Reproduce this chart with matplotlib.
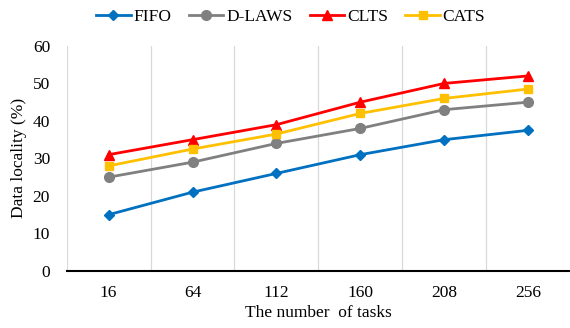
import numpy as np
import matplotlib.pyplot as plt

plt.rcParams['font.family'] = ['Liberation Serif', 'DejaVu Serif']

tasks = ['16', '64', '112', '160', '208', '256']
fifo = [15, 21, 26, 31, 35, 37.5]
dlaws = [25, 29, 34, 38, 43, 45]
clts = [31, 35, 39, 45, 50, 52]
cats = [28, 32.5, 36.5, 42, 46, 48.5]

fig = plt.figure(figsize=(5.7, 3.28), dpi=100)
ax = fig.add_axes([0.117, 0.174, 0.883, 0.686])

x = np.arange(len(tasks))
ax.plot(x, fifo, color='#0070C0', marker='D', ms=5, lw=2, label='FIFO')
ax.plot(x, dlaws, color='#808080', marker='o', ms=7, lw=2, label='D-LAWS')
ax.plot(x, clts, color='#FF0000', marker='^', ms=7, lw=2, label='CLTS')
ax.plot(x, cats, color='#FFC000', marker='s', ms=6, lw=2, label='CATS')

ax.set_xlim(-0.5, len(tasks) - 0.5)
ax.set_ylim(0, 60)
ax.set_xticks(x)
ax.set_xticklabels(tasks)
ax.set_yticks(np.arange(0, 61, 10))
ax.set_xticks(np.arange(-0.5, len(tasks) - 0.5, 1), minor=True)
ax.grid(True, which='minor', axis='x', color='#d9d9d9', lw=0.9)
ax.tick_params(which='both', length=0, labelsize=12.5, pad=10)
ax.tick_params(axis='y', pad=12)

for s in ['top', 'right', 'left']:
    ax.spines[s].set_visible(False)
ax.spines['bottom'].set_linewidth(1.5)

ax.set_xlabel('The number  of tasks', fontsize=12.5, labelpad=3)
ax.set_ylabel('Data locality (%)', fontsize=12.5, labelpad=4)

fig.legend(loc='upper center', bbox_to_anchor=(0.51, 1.02), ncol=4, frameon=False,
           fontsize=12.5, handlelength=2.0, columnspacing=1.0, handletextpad=0.15)

fig.savefig('out.png', dpi=100)
